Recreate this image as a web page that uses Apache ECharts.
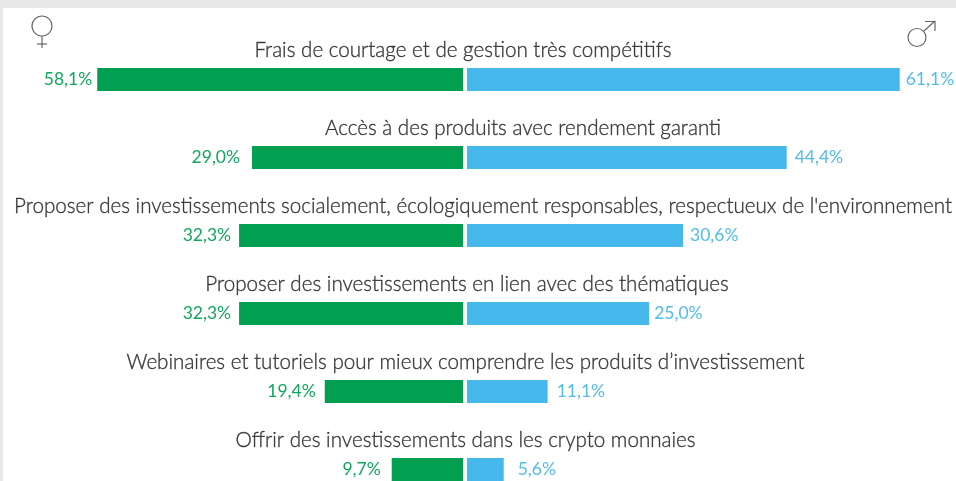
<!DOCTYPE html>
<html><head><meta charset="utf-8">
<style>html,body{margin:0;padding:0;background:#fff}#c{width:956px;height:481px}</style>
<script src="https://cdn.jsdelivr.net/npm/echarts@6/dist/echarts.min.js"></script>
</head><body><div id="c"></div>
<script>
const categories = [
  "Frais de courtage et de gestion très compétitifs",
  "Accès à des produits avec rendement garanti",
  "Proposer des investissements socialement, écologiquement responsables, respectueux de l'environnement",
  "Proposer des investissements en lien avec des thématiques",
  "Webinaires et tutoriels pour mieux comprendre les produits d’investissement",
  "Offrir des investissements dans les crypto monnaies"
];
// Printed percentages
const femaleLabels = ["58,1%", "29,0%", "32,3%", "32,3%", "19,4%", "9,7%"];
const maleLabels = ["61,1%", "44,4%", "30,6%", "25,0%", "11,1%", "5,6%"];
// Bar extents as drawn in the picture (they are not strictly proportional to the printed numbers)
const femaleBars = [50.8, 29.3, 31.1, 31.1, 19.2, 9.9];
const maleBars = [60.1, 44.4, 30.0, 25.3, 11.2, 5.1];

// Layout, kept apart from the data
const femaleGaps = [5, 12, 8, 8, 9, 11];
const maleGaps = [6, 8, 7, 5, 9, 14];
const titleCentres = [463, 523, 483, 467, 465.5, 465.5];
const FONT = 'Lato';
const GREEN = '#00A050', BLUE = '#47B8EC', GREEN_TEXT = '#12A75E', BLUE_TEXT = '#52BCEE', ICON = '#666666';
const axisMax = 64;
const gridTop = 40.5, rowH = 78, gridH = rowH * 6;
const gridBase = {top: gridTop, height: gridH, outerBoundsMode: 'none', containLabel: false};

const catAxis = (gridIndex) => ({type: 'category', gridIndex, data: categories, inverse: true, show: false});
const valAxis = (gridIndex, inverse) => ({type: 'value', gridIndex, min: 0, max: axisMax, inverse, show: false});
const barSeries = (name, idx, vals, labels, gaps, color, textColor, pos) => ({
  type: 'bar', name, xAxisIndex: idx, yAxisIndex: idx, barWidth: 23, silent: true,
  itemStyle: {color},
  data: vals.map((v, i) => ({
    value: v,
    label: {show: true, position: pos, distance: gaps[i], formatter: labels[i],
      color: textColor, fontFamily: FONT, fontSize: 17.5, fontWeight: 400}
  }))
});

const chart = echarts.init(document.getElementById('c'), null, {renderer: 'canvas'});
chart.setOption({
  animation: false,
  backgroundColor: '#fff',
  grid: [
    {...gridBase, left: 2.2, width: 460.8},
    {...gridBase, left: 467, width: 460.8},
    {...gridBase, left: 0, width: 956}
  ],
  xAxis: [valAxis(0, true), valAxis(1, false), {type: 'value', gridIndex: 2, min: 0, max: 956, show: false}],
  yAxis: [catAxis(0), catAxis(1), catAxis(2)],
  series: [
    barSeries('Femmes', 0, femaleBars, femaleLabels, femaleGaps, GREEN, GREEN_TEXT, 'left'),
    barSeries('Hommes', 1, maleBars, maleLabels, maleGaps, BLUE, BLUE_TEXT, 'right'),
    {
      type: 'scatter', xAxisIndex: 2, yAxisIndex: 2, symbolSize: 0, silent: true, clip: false,
      data: categories.map((c, i) => [titleCentres[i], c]),
      label: {show: true, position: 'top', distance: 19, formatter: p => p.data[1],
        color: '#111111', textBorderColor: '#333333', textBorderWidth: 0.4,
        fontFamily: FONT, fontSize: 20.6, fontWeight: 300}
    }
  ],
  graphic: [
    {type: 'rect', silent: true, shape: {x: 0, y: 0, width: 956, height: 8}, style: {fill: '#e8e8e8'}},
    {type: 'rect', silent: true, shape: {x: 0, y: 0, width: 3, height: 481}, style: {fill: '#e8e8e8'}},
    {type: 'circle', silent: true, shape: {cx: 42, cy: 26, r: 10}, style: {fill: 'none', stroke: ICON, lineWidth: 1.2}},
    {type: 'line', silent: true, shape: {x1: 42, y1: 36, x2: 42, y2: 48}, style: {stroke: ICON, lineWidth: 1.2}},
    {type: 'line', silent: true, shape: {x1: 37, y1: 44, x2: 47, y2: 44}, style: {stroke: ICON, lineWidth: 1.2}},
    {type: 'circle', silent: true, shape: {cx: 917, cy: 37.5, r: 9}, style: {fill: 'none', stroke: ICON, lineWidth: 1.2}},
    {type: 'polyline', silent: true, shape: {points: [[924, 31], [935, 21]]}, style: {fill: 'none', stroke: ICON, lineWidth: 1.2}},
    {type: 'polyline', silent: true, shape: {points: [[925, 21.5], [935, 21.5], [935, 31]]}, style: {fill: 'none', stroke: ICON, lineWidth: 1.2}}
  ]
});
</script></body></html>
